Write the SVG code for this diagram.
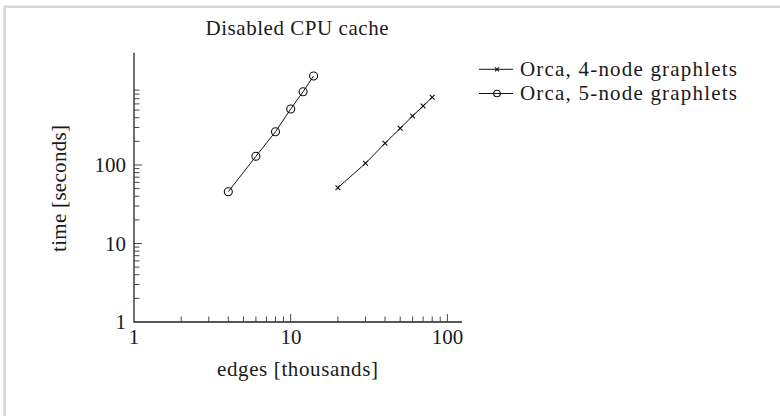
<svg xmlns="http://www.w3.org/2000/svg" width="780" height="416" viewBox="0 0 780 416">
  <style>
    text { font-family: "Liberation Serif", "Times New Roman", serif; font-size: 21px; fill: #1a1a1a; }
    .axis { stroke: #222; stroke-width: 1.3; fill: none; }
    .tick { stroke: #333; stroke-width: 0.9; }
    .series { stroke: #111; stroke-width: 1; fill: none; }
    .mark-o { stroke: #111; stroke-width: 1.1; fill: none; }
    .mark-x { stroke: #111; stroke-width: 1.1; fill: none; }
  </style>
  <defs>
    <path id="cross" d="M-2.4,-2.4 L2.4,2.4 M-2.4,2.4 L2.4,-2.4" class="mark-x"/>
    <path id="cross-small" d="M-2,-2 L2,2 M-2,2 L2,-2" class="mark-x"/>
  </defs>

  <rect width="780" height="416" fill="#ffffff"/>
  <!-- light frame, open on the right and bottom -->
  <path d="M4.7,420 V6.8 H790" fill="none" stroke="#d8d8d8" stroke-width="2.6"/>

  <!-- title -->
  <text x="297" y="35" text-anchor="middle" textLength="183" lengthAdjust="spacing">Disabled CPU cache</text>

  <!-- axes: x(v)=134+156.7*log10(v), y(v)=322-78.5*log10(v) -->
  <g id="axes">
    <path class="axis" d="M134,52.7 V322 H462"/>
    <!-- x ticks -->
    <path class="tick" d="
      M181.2,322 v-5.5 M208.8,322 v-5.5 M228.3,322 v-5.5 M243.5,322 v-5.5 M255.9,322 v-5.5 M266.4,322 v-5.5 M275.5,322 v-5.5 M283.5,322 v-5.5
      M290.7,322 v-8
      M337.9,322 v-5.5 M365.5,322 v-5.5 M385.0,322 v-5.5 M400.2,322 v-5.5 M412.6,322 v-5.5 M423.1,322 v-5.5 M432.2,322 v-5.5 M440.2,322 v-5.5
      M447.4,322 v-8"/>
    <!-- y ticks -->
    <path class="tick" d="
      M134,298.4 h5.5 M134,284.5 h5.5 M134,274.7 h5.5 M134,267.1 h5.5 M134,260.9 h5.5 M134,255.7 h5.5 M134,251.1 h5.5 M134,247.1 h5.5
      M134,243.5 h8
      M134,219.9 h5.5 M134,206.0 h5.5 M134,196.2 h5.5 M134,188.6 h5.5 M134,182.4 h5.5 M134,177.2 h5.5 M134,172.6 h5.5 M134,168.6 h5.5
      M134,165.0 h8
      M134,141.4 h5.5 M134,127.5 h5.5 M134,117.7 h5.5 M134,110.1 h5.5 M134,103.9 h5.5 M134,98.7 h5.5 M134,94.1 h5.5 M134,90.1 h5.5"/>
  </g>

  <!-- tick labels -->
  <g id="tick-labels">
    <text x="134" y="343.5" text-anchor="middle">1</text>
    <text x="291" y="343.5" text-anchor="middle">10</text>
    <text x="447.5" y="343.5" text-anchor="middle">100</text>
    <text x="126" y="329" text-anchor="end">1</text>
    <text x="126" y="250.5" text-anchor="end">10</text>
    <text x="126" y="172" text-anchor="end">100</text>
  </g>

  <!-- axis titles -->
  <text x="297.5" y="376" text-anchor="middle" textLength="161" lengthAdjust="spacing">edges [thousands]</text>
  <text transform="translate(66,188.5) rotate(-90)" x="0" y="0" text-anchor="middle" textLength="127" lengthAdjust="spacing">time [seconds]</text>

  <!-- Orca, 5-node graphlets -->
  <g id="series-5node">
    <polyline class="series" points="228.3,191.7 255.9,156.3 275.5,131.7 290.7,109 303.1,91.7 313.6,76"/>
    <circle class="mark-o" cx="228.3" cy="191.7" r="4"/>
    <circle class="mark-o" cx="255.9" cy="156.3" r="4"/>
    <circle class="mark-o" cx="275.5" cy="131.7" r="4"/>
    <circle class="mark-o" cx="290.7" cy="109" r="4"/>
    <circle class="mark-o" cx="303.1" cy="91.7" r="4"/>
    <circle class="mark-o" cx="313.6" cy="76" r="4"/>
  </g>

  <!-- Orca, 4-node graphlets -->
  <g id="series-4node">
    <polyline class="series" points="337.9,187.7 365.5,163.3 385,143.3 400.2,128.3 412.6,116 423.1,106 432.2,97.3"/>
    <use href="#cross" x="337.9" y="187.7"/>
    <use href="#cross" x="365.5" y="163.3"/>
    <use href="#cross" x="385" y="143.3"/>
    <use href="#cross" x="400.2" y="128.3"/>
    <use href="#cross" x="412.6" y="116"/>
    <use href="#cross" x="423.1" y="106"/>
    <use href="#cross" x="432.2" y="97.3"/>
  </g>

  <!-- legend -->
  <g id="legend">
    <path class="series" d="M479,69.3 H513"/>
    <use href="#cross-small" x="497" y="69.3"/>
    <text x="520" y="76" textLength="217" lengthAdjust="spacing">Orca, 4-node graphlets</text>
    <path class="series" d="M479,93.5 H513"/>
    <circle class="mark-o" cx="497" cy="93.5" r="3.3"/>
    <text x="520" y="100" textLength="217" lengthAdjust="spacing">Orca, 5-node graphlets</text>
  </g>
</svg>
